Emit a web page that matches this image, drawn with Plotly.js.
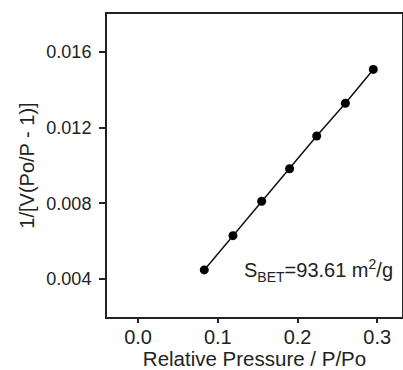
<!DOCTYPE html>
<html>
<head>
<meta charset="utf-8">
<script src="https://cdn.plot.ly/plotly-3.0.1.min.js"></script>
<style>html,body{margin:0;padding:0;background:#fff;}#chart{width:403px;height:370px;}</style>
</head>
<body>
<div id="chart"></div>
<script>
const relPressure = [0.083, 0.119, 0.155, 0.190, 0.224, 0.260, 0.295];
const betValues = [0.00448, 0.00629, 0.00811, 0.00983, 0.01156, 0.01329, 0.01508];
const xTickVals = [0.0, 0.1, 0.2, 0.3];
const yTickVals = [0.004, 0.008, 0.012, 0.016];
const annotationText = 'S<sub>BET</sub>=93.61 m<sup>2</sup>/g';

const font = 'Liberation Sans, Arial, sans-serif';
const trace = {
  x: relPressure, y: betValues, type: 'scatter', mode: 'lines+markers',
  line: {color: '#111', width: 1.5},
  marker: {color: '#000', size: 9},
  showlegend: false, hoverinfo: 'skip'
};
const layout = {
  width: 403, height: 370,
  margin: {l: 107, r: 1, t: 14, b: 53},
  paper_bgcolor: '#fff', plot_bgcolor: '#fff',
  font: {family: font, color: '#222', size: 18},
  xaxis: {
    range: [-0.039, 0.331], tickvals: xTickVals, ticktext: xTickVals.map(v => v.toFixed(1)),
    showgrid: false, zeroline: false, showline: true, mirror: true,
    linecolor: '#222', linewidth: 2, ticks: 'outside', ticklen: 4, tickwidth: 2, tickcolor: '#222',
    ticklabelstandoff: -3,
    tickfont: {size: 20, family: font, color: '#222'},
    title: {text: 'Relative Pressure / P/Po', font: {size: 20.5, family: font, color: '#222'}, standoff: 3}
  },
  yaxis: {
    range: [0.00199, 0.01801], tickvals: yTickVals, ticktext: yTickVals.map(v => v.toFixed(3)),
    showgrid: false, zeroline: false, showline: true, mirror: true,
    linecolor: '#222', linewidth: 2, ticks: 'outside', ticklen: 6, tickwidth: 2, tickcolor: '#222',
    ticklabelstandoff: 4,
    tickfont: {size: 18, family: font, color: '#222'},
    title: {text: '1/[V(Po/P - 1)]', font: {size: 20, family: font, color: '#222'}, standoff: 6}
  },
  annotations: [{
    x: 0.1305, y: 0.00445, xref: 'x', yref: 'y', xanchor: 'left', yanchor: 'middle',
    text: annotationText, showarrow: false, font: {size: 20, family: font, color: '#222'}
  }]
};
Plotly.newPlot('chart', [trace], layout, {displayModeBar: false, staticPlot: true});
</script>
</body>
</html>
